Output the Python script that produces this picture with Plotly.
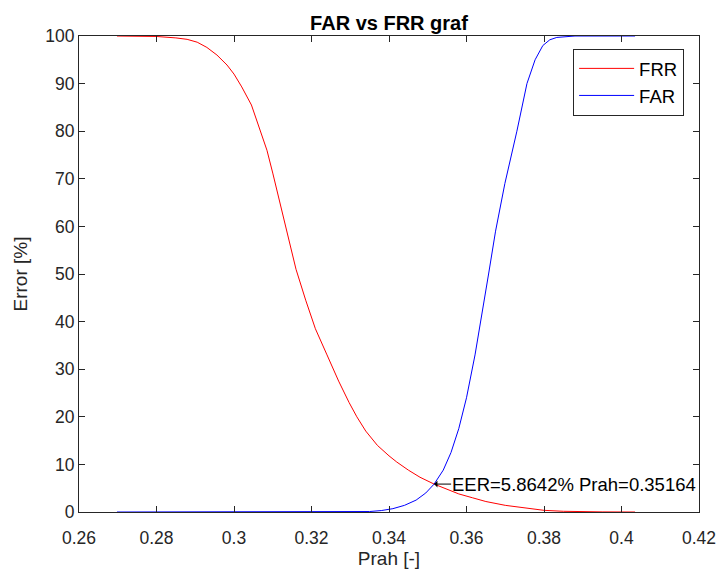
import plotly.graph_objects as go

# Threshold values (Prah) and error rates
frr_x = [0.2698, 0.275, 0.28, 0.285, 0.2879, 0.2905, 0.293, 0.2956, 0.2982, 0.300,
         0.302, 0.3045, 0.3067, 0.3085, 0.31, 0.312, 0.3136, 0.316, 0.3185, 0.321,
         0.324, 0.327, 0.3297, 0.3317, 0.334, 0.337, 0.340, 0.342, 0.345, 0.348,
         0.35164, 0.355, 0.358, 0.3615, 0.365, 0.37, 0.375, 0.38, 0.385, 0.39,
         0.395, 0.4035]
frr_y = [100, 100, 99.9, 99.6, 99.3, 98.7, 97.6, 96, 93.9, 92,
         89.3, 85.5, 80.3, 76, 71.2, 64.5, 58.5, 51, 44.5, 38.5,
         33, 27.5, 23, 20, 17, 14, 11.8, 10.5, 8.8, 7.3,
         5.8642, 4.7, 3.8, 3.0, 2.2, 1.4, 0.8, 0.35, 0.15, 0.05,
         0.02, 0]

far_x = [0.2698, 0.30, 0.32, 0.33, 0.335, 0.338, 0.341, 0.344, 0.347, 0.3495,
         0.35164, 0.354, 0.356, 0.358, 0.36, 0.3622, 0.364, 0.3657, 0.3675, 0.3699,
         0.373, 0.3756, 0.3777, 0.3797, 0.3815, 0.3833, 0.388, 0.395, 0.4035]
far_y = [0, 0, 0, 0.02, 0.1, 0.3, 0.7, 1.4, 2.5, 4.0,
         5.8642, 8.8, 12.5, 17.5, 24, 33, 41.5, 50, 59, 69,
         80, 90, 95, 98, 99.2, 99.7, 100, 100, 100]

eer_x = 0.35164
eer_y = 5.8642
eer_label = "EER=5.8642% Prah=0.35164"

x_ticks = [0.26, 0.28, 0.30, 0.32, 0.34, 0.36, 0.38, 0.40, 0.42]
x_tick_text = ["0.26", "0.28", "0.3", "0.32", "0.34", "0.36", "0.38", "0.4", "0.42"]
y_ticks = [0, 10, 20, 30, 40, 50, 60, 70, 80, 90, 100]

FONT = "Liberation Sans, Arial, sans-serif"
AX = "#262626"

fig = go.Figure()
fig.add_trace(go.Scatter(x=frr_x, y=frr_y, mode="lines", name="FRR",
                         line=dict(color="#ff0000", width=1)))
fig.add_trace(go.Scatter(x=far_x, y=far_y, mode="lines", name="FAR",
                         line=dict(color="#0000ff", width=1)))

fig.add_annotation(x=eer_x, y=eer_y, text=eer_label, showarrow=True,
                   ax=17, ay=0, axref="pixel", ayref="pixel",
                   xanchor="left", yanchor="middle",
                   arrowhead=1, arrowsize=1.1, arrowwidth=1, arrowcolor="#000000",
                   standoff=0, startstandoff=0, borderpad=0,
                   font=dict(family=FONT, size=18.5, color="#000000"))

axis_common = dict(showline=True, linecolor=AX, linewidth=1, mirror="ticks",
                   ticks="inside", ticklen=6, tickcolor=AX, showgrid=False,
                   zeroline=False, automargin=False,
                   tickfont=dict(family=FONT, size=17.5, color=AX))

fig.update_xaxes(range=[0.26, 0.42], tickvals=x_ticks, ticktext=x_tick_text,
                 ticklabelstandoff=10,
                 title=dict(text="Prah [-]", font=dict(family=FONT, size=19, color=AX),
                            standoff=8),
                 **axis_common)
fig.update_yaxes(range=[0, 100], tickvals=y_ticks,
                 title=dict(text="Error [%]", font=dict(family=FONT, size=19, color=AX),
                            standoff=12),
                 **axis_common)

fig.update_layout(
    width=718, height=569,
    margin=dict(l=79, r=19, t=36, b=57, autoexpand=False),
    paper_bgcolor="white", plot_bgcolor="white",
    title=dict(text="<b>FAR vs FRR graf</b>", x=0.5, xref="paper", xanchor="center",
               y=1, yref="paper", yanchor="bottom", pad=dict(b=6),
               automargin=False,
               font=dict(family=FONT, size=20, color="#000000")),
    legend=dict(x=0.976, y=0.973, xanchor="right", yanchor="top",
                bordercolor=AX, borderwidth=1, bgcolor="white",
                font=dict(family=FONT, size=18.5, color="#000000"),
                tracegroupgap=0, itemwidth=55),
    showlegend=True,
)

fig.write_html("out.html")
